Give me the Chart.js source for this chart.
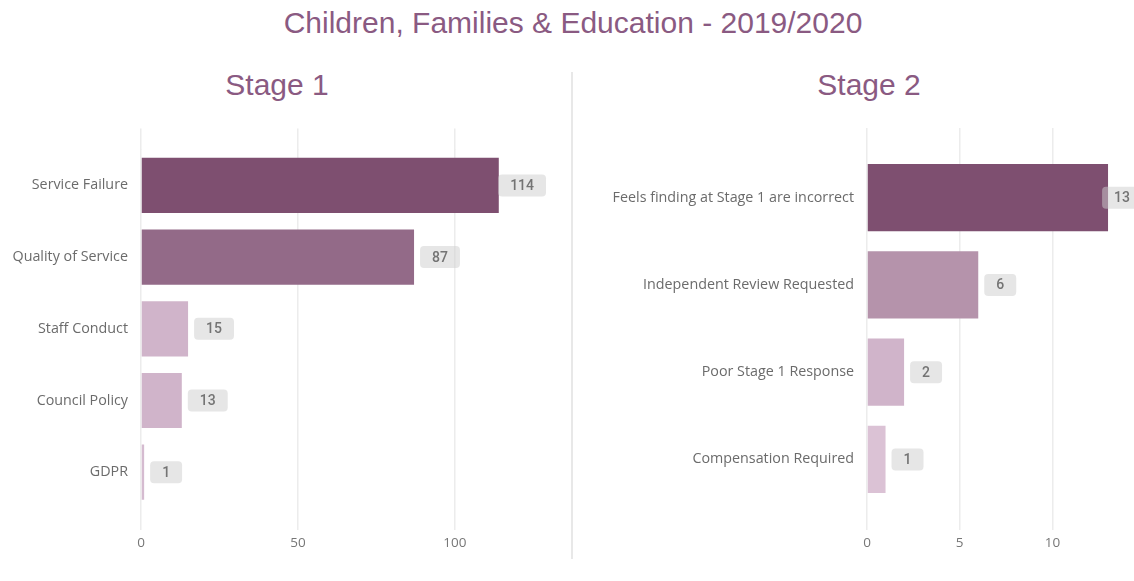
<!DOCTYPE html>
<html><head><meta charset="utf-8">
<script src="https://cdn.jsdelivr.net/npm/chart.js@4"></script>
<style>
html,body{margin:0;padding:0;background:#fff;width:1134px;height:581px;overflow:hidden;position:relative;font-family:"Liberation Sans",Arial,sans-serif}
.t{position:absolute;color:#8a5a82;font-size:30px;line-height:30px;white-space:nowrap;transform:translateX(-50%)}
canvas{position:absolute;top:128px}
</style></head><body>
<div class="t" style="left:573px;top:8px">Children, Families &amp; Education - 2019/2020</div>
<div class="t" style="left:277px;top:70px">Stage 1</div>
<div class="t" style="left:869px;top:70px">Stage 2</div>
<div style="position:absolute;left:571px;top:72px;width:2px;height:487px;background:#e8e8e8"></div>
<canvas id="c1" width="560" height="424" style="left:0"></canvas>
<canvas id="c2" width="554" height="424" style="left:580px"></canvas>
<script>
// ---- data ----
const stage1Categories = ["Service Failure", "Quality of Service", "Staff Conduct", "Council Policy", "GDPR"];
const stage1Values = [114, 87, 15, 13, 1];
const stage1Ticks = [0, 50, 100];

const stage2Categories = ["Feels finding at Stage 1 are incorrect", "Independent Review Requested", "Poor Stage 1 Response", "Compensation Required"];
const stage2Values = [13, 6, 2, 1];
const stage2Ticks = [0, 5, 10];

// ---- styles ----
const stage1Colors = ["#7e4f70", "#936a88", "#d0b4ca", "#d0b4ca", "#d5bbd0"];
const stage2Colors = ["#7e4f70", "#b593ab", "#d0b4ca", "#dbc2d5"];

const valueBadges = {
  id: 'valueBadges',
  afterDatasetsDraw(chart, args, opts) {
    const ctx = chart.ctx;
    const meta = chart.getDatasetMeta(0);
    const data = chart.data.datasets[0].data;
    ctx.save();
    ctx.font = '500 14px Roboto';
    meta.data.forEach((bar, i) => {
      const txt = String(data[i]);
      const w = ctx.measureText(txt).width + 24;
      const h = 22;
      let x = bar.x + 6;
      if (x + w > opts.maxRight) x = opts.maxRight - w;
      const y = bar.y - h / 2;
      ctx.fillStyle = 'rgba(205,205,205,0.5)';
      ctx.beginPath();
      ctx.roundRect(x, y, w, h, 4);
      ctx.fill();
      ctx.fillStyle = '#747474';
      ctx.textAlign = 'center';
      ctx.textBaseline = 'middle';
      ctx.fillText(txt, x + w / 2, bar.y + 1);
    });
    ctx.restore();
  }
};

function makeChart(id, labels, values, colors, ticks, xMax, yWidth, topExt, botExt, padRight, maxRight) {
  const tickList = () => ticks.map(v => ({ value: v }));
  return new Chart(document.getElementById(id), {
    type: 'bar',
    data: {
      labels: labels,
      datasets: [{
        data: values,
        backgroundColor: colors,
        borderWidth: 0,
        barPercentage: 0.77,
        categoryPercentage: 1,
        xAxisID: 'x',
        yAxisID: 'y'
      }]
    },
    options: {
      indexAxis: 'y',
      responsive: false,
      animation: false,
      layout: { padding: { left: 0, right: padRight, top: 0, bottom: 0 } },
      plugins: {
        legend: { display: false },
        tooltip: { enabled: false },
        valueBadges: { maxRight: maxRight }
      },
      scales: {
        x: {
          type: 'linear', position: 'bottom', min: 0, max: xMax,
          afterBuildTicks: s => { s.ticks = tickList(); },
          afterFit: s => { s.height = botExt + 22; },
          grid: { color: '#ececec', lineWidth: 1.5, drawTicks: true, tickLength: botExt },
          border: { display: false },
          ticks: { color: '#777', font: { family: 'Open Sans', size: 13.5 }, padding: 5 }
        },
        x2: {
          type: 'linear', position: 'top', min: 0, max: xMax,
          afterBuildTicks: s => { s.ticks = tickList(); },
          afterFit: s => { s.height = topExt; },
          grid: { drawOnChartArea: false, color: '#ececec', lineWidth: 1.5, drawTicks: true, tickLength: topExt },
          border: { display: false },
          ticks: { display: false }
        },
        y: {
          type: 'category',
          afterFit: s => { s.width = yWidth; },
          grid: { display: false, drawTicks: false },
          border: { display: false },
          ticks: { color: '#6b6b6b', font: { family: 'Open Sans', size: 14.3 }, padding: 13 }
        }
      }
    },
    plugins: [valueBadges]
  });
}

makeChart('c1', stage1Categories, stage1Values, stage1Colors, stage1Ticks, 130, 141, 21, 22, 11, 546);
makeChart('c2', stage2Categories, stage2Values, stage2Colors, stage2Ticks, 14.4, 287, 26, 27, 0, 562);
</script>
</body></html>
